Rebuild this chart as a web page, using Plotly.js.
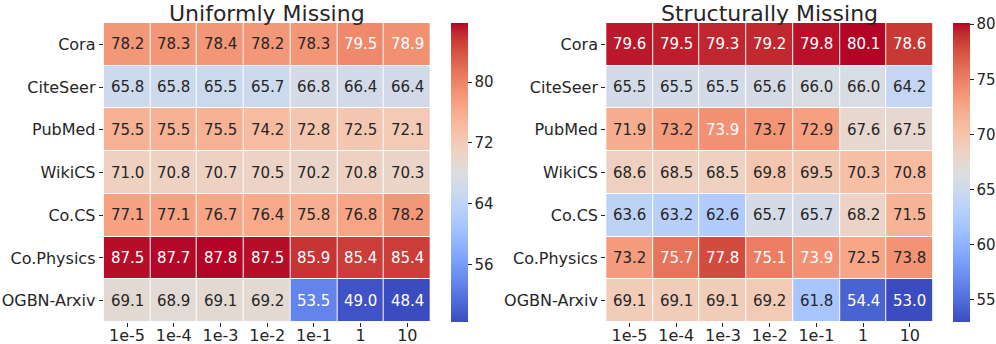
<!DOCTYPE html>
<html>
<head>
<meta charset="utf-8">
<script src="https://cdn.plot.ly/plotly-3.0.1.min.js"></script>
<style>
  html, body { margin: 0; padding: 0; background: #fff; }
  #chart { width: 996px; height: 344px; }
</style>
</head>
<body>
<div id="chart"></div>
<script>
// datasets (rows) and lambda values (columns)
const datasets = ['Cora', 'CiteSeer', 'PubMed', 'WikiCS', 'Co.CS', 'Co.Physics', 'OGBN-Arxiv'];
const lambdas = ['1e-5', '1e-4', '1e-3', '1e-2', '1e-1', '1', '10'];

const uniformCora = [78.2, 78.3, 78.4, 78.2, 78.3, 79.5, 78.9];
const uniformCiteSeer = [65.8, 65.8, 65.5, 65.7, 66.8, 66.4, 66.4];
const uniformPubMed = [75.5, 75.5, 75.5, 74.2, 72.8, 72.5, 72.1];
const uniformWikiCS = [71.0, 70.8, 70.7, 70.5, 70.2, 70.8, 70.3];
const uniformCoCS = [77.1, 77.1, 76.7, 76.4, 75.8, 76.8, 78.2];
const uniformCoPhysics = [87.5, 87.7, 87.8, 87.5, 85.9, 85.4, 85.4];
const uniformArxiv = [69.1, 68.9, 69.1, 69.2, 53.5, 49.0, 48.4];

const structCora = [79.6, 79.5, 79.3, 79.2, 79.8, 80.1, 78.6];
const structCiteSeer = [65.5, 65.5, 65.5, 65.6, 66.0, 66.0, 64.2];
const structPubMed = [71.9, 73.2, 73.9, 73.7, 72.9, 67.6, 67.5];
const structWikiCS = [68.6, 68.5, 68.5, 69.8, 69.5, 70.3, 70.8];
const structCoCS = [63.6, 63.2, 62.6, 65.7, 65.7, 68.2, 71.5];
const structCoPhysics = [73.2, 75.7, 77.8, 75.1, 73.9, 72.5, 73.8];
const structArxiv = [69.1, 69.1, 69.1, 69.2, 61.8, 54.4, 53.0];

const uniform = [uniformCora, uniformCiteSeer, uniformPubMed, uniformWikiCS, uniformCoCS, uniformCoPhysics, uniformArxiv];
const structural = [structCora, structCiteSeer, structPubMed, structWikiCS, structCoCS, structCoPhysics, structArxiv];

// matplotlib coolwarm
const coolwarm = [
  [59,76,192],[68,90,204],[77,104,215],[87,117,225],[98,130,234],[108,142,241],
  [119,154,247],[130,165,251],[141,176,254],[152,185,255],[163,194,255],[174,201,253],
  [184,208,249],[194,213,244],[204,217,238],[213,219,230],[221,221,221],[229,216,209],
  [236,211,197],[241,204,185],[245,196,173],[247,187,160],[247,177,148],[247,166,135],
  [244,154,123],[241,141,111],[236,127,99],[229,112,88],[222,96,77],[213,80,66],
  [203,62,56],[192,40,47],[180,4,38]
];
const colorscale = coolwarm.map((c, i) => [i / (coolwarm.length - 1), `rgb(${c[0]},${c[1]},${c[2]})`]);

function colorAt(t) {
  t = Math.min(1, Math.max(0, t)) * (coolwarm.length - 1);
  const i = Math.min(Math.floor(t), coolwarm.length - 2);
  const f = t - i;
  return coolwarm[i].map((v, k) => v + (coolwarm[i + 1][k] - v) * f);
}

// same rule as seaborn's annotation colour
function textColor(v, zmin, zmax) {
  const lin = colorAt((v - zmin) / (zmax - zmin)).map(c => {
    c /= 255;
    return c <= 0.03928 ? c / 12.92 : Math.pow((c + 0.055) / 1.055, 2.4);
  });
  const lum = 0.2126 * lin[0] + 0.7152 * lin[1] + 0.0722 * lin[2];
  return lum > 0.408 ? '#262626' : '#ffffff';
}

const font = 'DejaVu Sans, sans-serif';
const W = 996, H = 344;
const yDom = [(H - 322) / H, (H - 23) / H];

function heat(z, xa, ya, cbx, dtick) {
  const flat = z.flat();
  return {
    type: 'heatmap', z: z, x: lambdas, y: datasets, xaxis: xa, yaxis: ya,
    colorscale: colorscale, zmin: Math.min(...flat), zmax: Math.max(...flat),
    xgap: 1, ygap: 1, hoverongaps: false,
    colorbar: {
      x: cbx / W, xanchor: 'left', y: (yDom[0] + yDom[1]) / 2, yanchor: 'middle',
      len: yDom[1] - yDom[0], lenmode: 'fraction', thickness: 17, outlinewidth: 0,
      xpad: 0, ypad: 0,
      ticks: 'outside', ticklen: 4, tickcolor: '#262626', tickwidth: 1,
      tick0: 0, dtick: dtick, tickfont: { family: font, size: 15, color: '#262626' }
    }
  };
}

function cellNotes(z, xa, ya) {
  const flat = z.flat();
  const zmin = Math.min(...flat), zmax = Math.max(...flat);
  const notes = [];
  z.forEach((row, r) => row.forEach((v, c) => {
    notes.push({
      x: c, y: r, xref: xa, yref: ya, text: v.toFixed(1), showarrow: false,
      font: { family: font, size: 15, color: textColor(v, zmin, zmax) }
    });
  }));
  return notes;
}

const axisX = (dom) => ({
  domain: dom, type: 'category', ticks: 'outside', ticklen: 4, tickcolor: '#262626',
  showline: false, showgrid: false, zeroline: false, ticklabelstandoff: -5,
  tickfont: { family: font, size: 16, color: '#262626' }
});
const axisY = (anchor) => ({
  domain: yDom, anchor: anchor, type: 'category', autorange: 'reversed', ticks: 'outside',
  ticklen: 4, tickcolor: '#262626', showline: false, showgrid: false, zeroline: false,
  tickfont: { family: font, size: 16, color: '#262626' }
});

const data = [
  heat(uniform, 'x', 'y', 452, 8),
  heat(structural, 'x2', 'y2', 956, 5)
];

const layout = {
  width: W, height: H,
  margin: { l: 0, r: 0, t: 0, b: 0 },
  paper_bgcolor: '#ffffff', plot_bgcolor: '#ffffff',
  showlegend: false,
  xaxis: Object.assign(axisX([104 / W, 432 / W]), { anchor: 'y' }),
  yaxis: axisY('x'),
  xaxis2: Object.assign(axisX([608 / W, 936 / W]), { anchor: 'y2' }),
  yaxis2: axisY('x2'),
  annotations: [
    { text: 'Uniformly Missing', xref: 'paper', yref: 'paper', x: 268 / W, y: 1,
      xanchor: 'center', yanchor: 'top', borderpad: 0, showarrow: false,
      font: { family: font, size: 22, color: '#262626' } },
    { text: 'Structurally Missing', xref: 'paper', yref: 'paper', x: 772 / W, y: 1,
      xanchor: 'center', yanchor: 'top', borderpad: 0, showarrow: false,
      font: { family: font, size: 22, color: '#262626' } }
  ].concat(cellNotes(uniform, 'x', 'y'), cellNotes(structural, 'x2', 'y2'))
};

Plotly.newPlot('chart', data, layout, { displayModeBar: false, staticPlot: true });
</script>
</body>
</html>
